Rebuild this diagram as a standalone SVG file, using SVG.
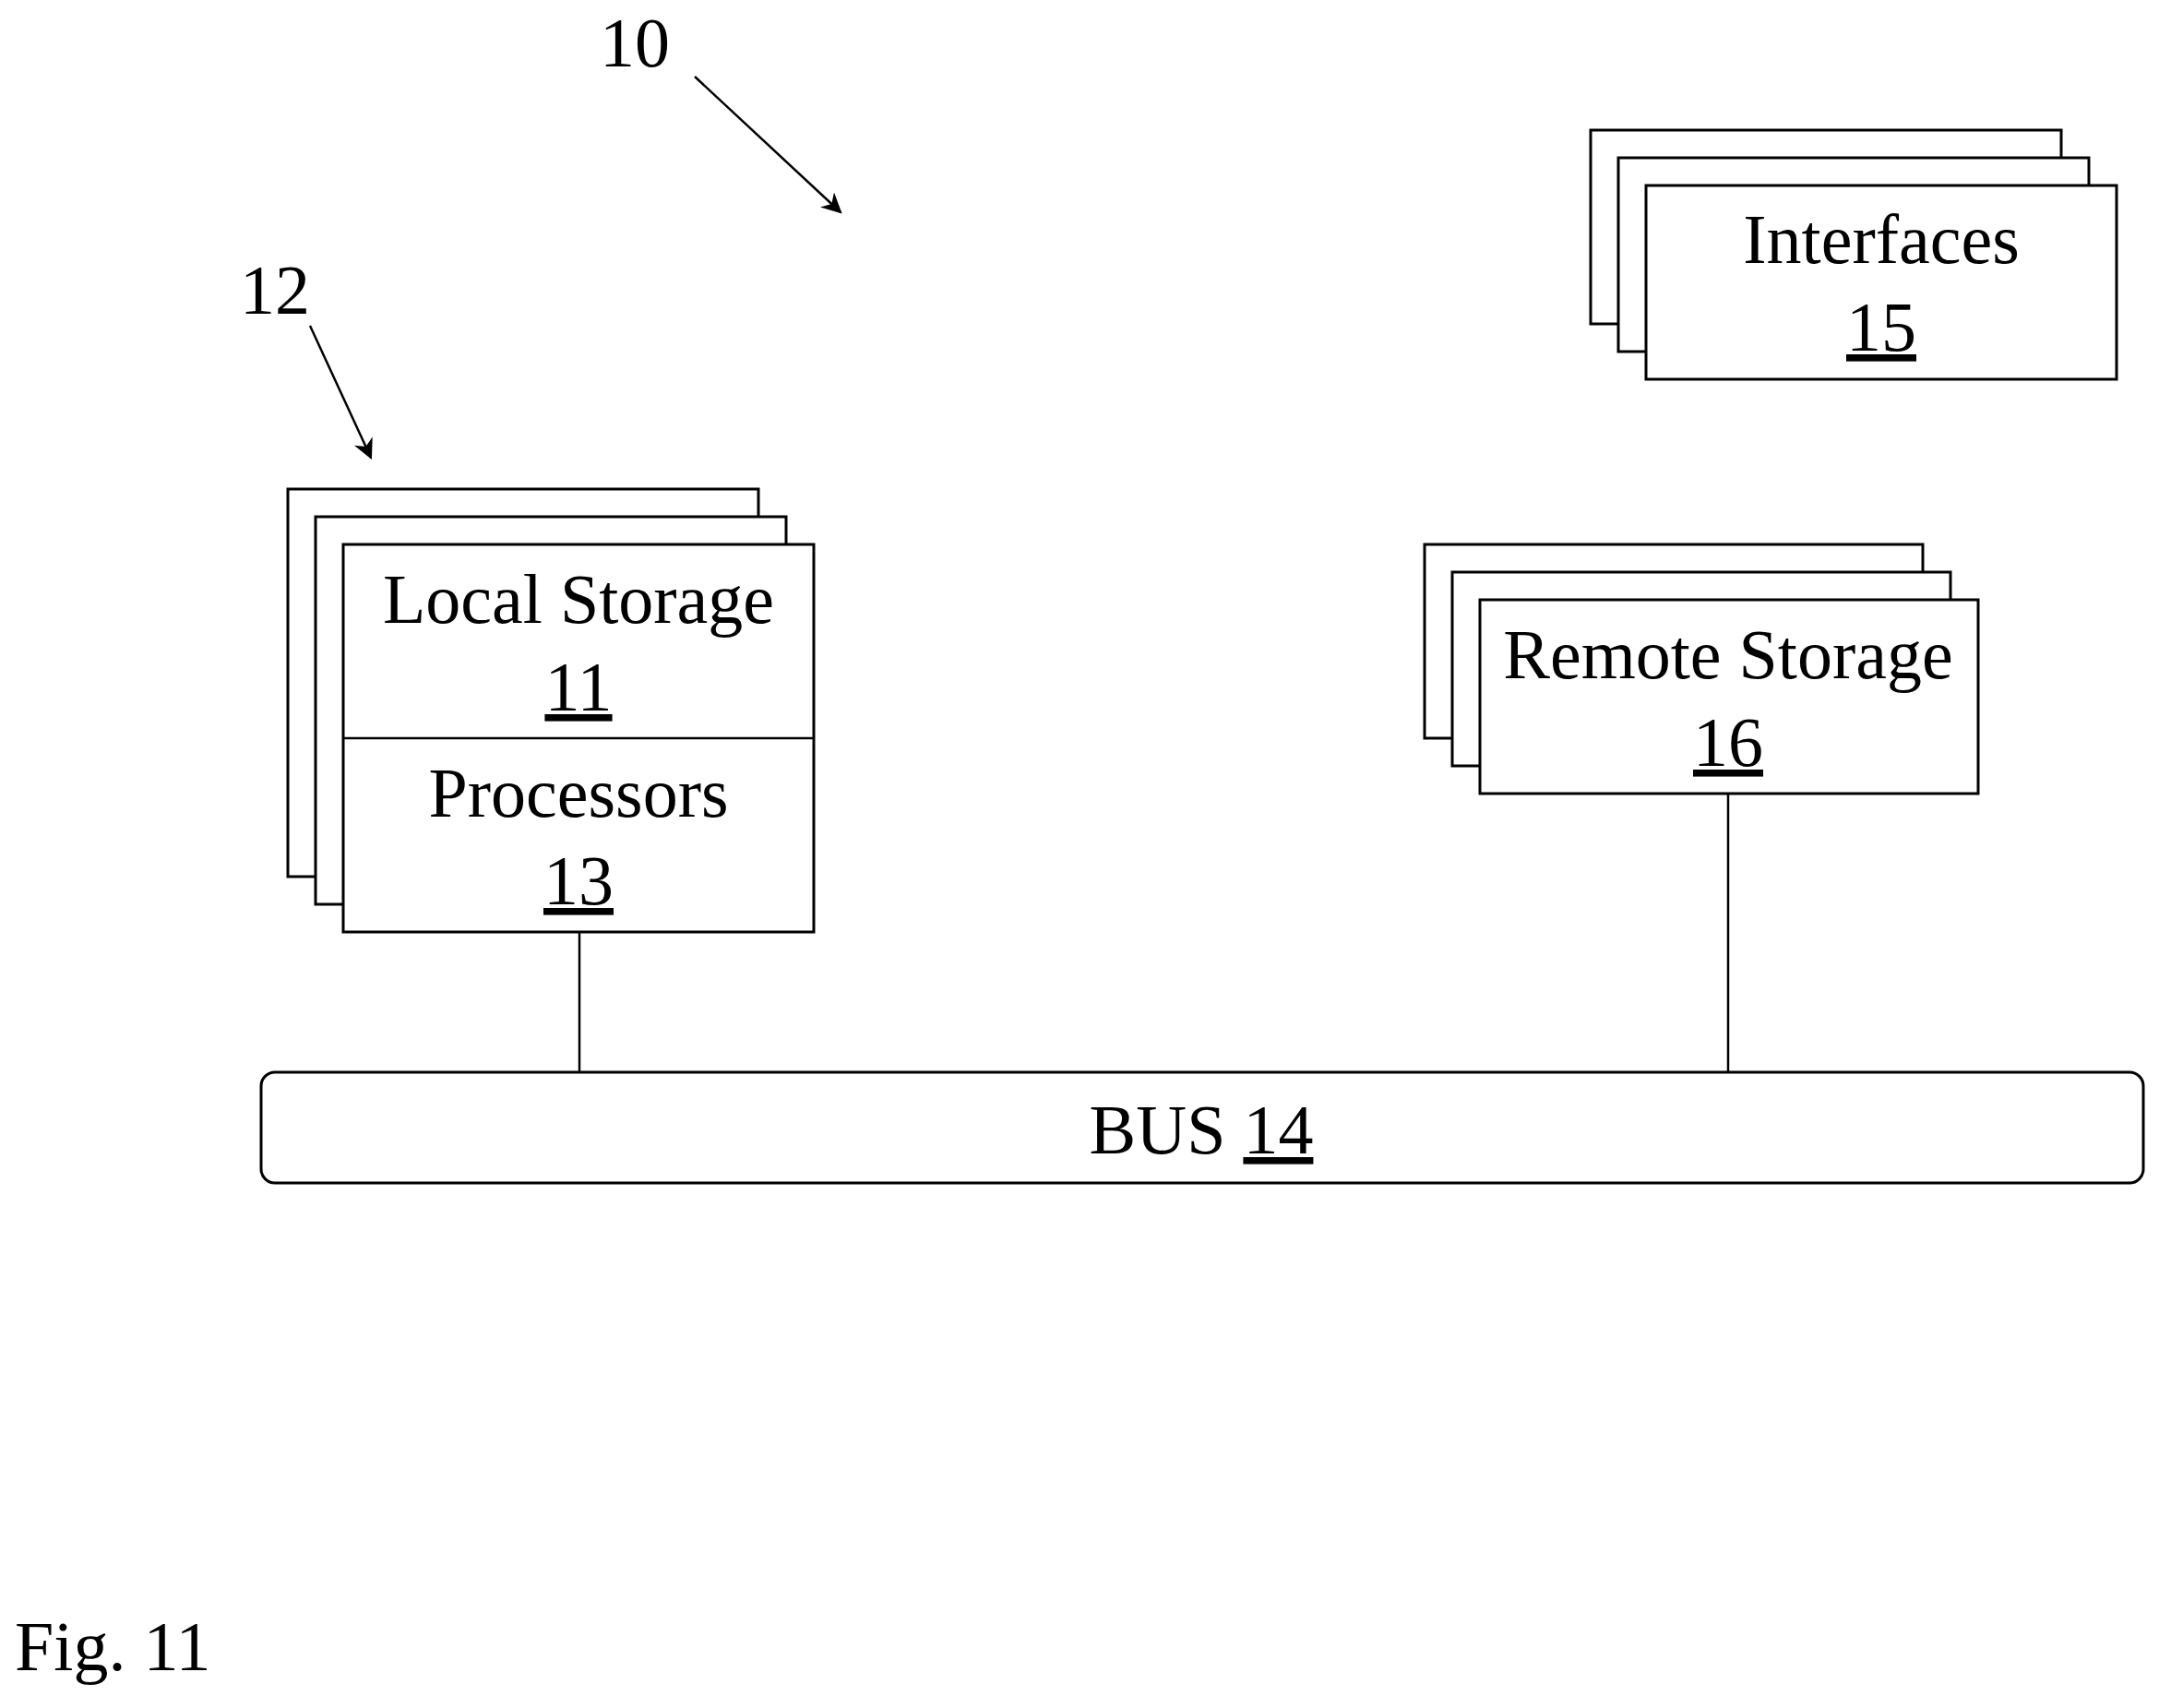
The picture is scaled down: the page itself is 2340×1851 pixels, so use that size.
<svg xmlns="http://www.w3.org/2000/svg" width="2340" height="1851" viewBox="0 0 2340 1851">
<style>
rect{fill:#fff;stroke:#000;stroke-width:3}
text{font-family:"Liberation Serif",serif;fill:#000;text-anchor:middle;font-size:76px}
.u{text-decoration:underline}
line{stroke:#000;stroke-width:2.5}
</style>
<defs><marker id="b" viewBox="0 0 10 10" refX="9" refY="5" markerWidth="22" markerHeight="22" orient="auto" markerUnits="userSpaceOnUse"><path d="M0,0 L10,5 L0,10 L3,5z" fill="#000"/></marker></defs>
<rect width="2340" height="1851" style="stroke:none"/>
<g id="labels">
<text x="688" y="72" font-size="64">10</text>
<text x="298" y="340" font-size="64">12</text>
<text x="16" y="1810" font-size="140" style="text-anchor:start">Fig. 11</text>
</g>
<g id="connectors">
<line x1="753" y1="83" x2="911" y2="230" marker-end="url(#b)"/>
<line x1="336" y1="353" x2="402" y2="496" marker-end="url(#b)"/>
<line x1="628" y1="1010" x2="628" y2="1162"/>
<line x1="1873" y1="860" x2="1873" y2="1162"/>
</g>
<g id="node-local">
<rect x="312" y="530" width="510" height="420"/>
<rect x="342" y="560" width="510" height="420"/>
<rect x="372" y="590" width="510" height="420"/>
<line x1="372" y1="800" x2="882" y2="800"/>
<text x="627" y="675">Local Storage</text>
<text x="627" y="770" class="u">11</text>
<text x="627" y="885">Processors</text>
<text x="627" y="980" class="u">13</text>
</g>
<g id="node-interfaces">
<rect x="1724" y="141" width="510" height="210"/>
<rect x="1754" y="171" width="510" height="210"/>
<rect x="1784" y="201" width="510" height="210"/>
<text x="2039" y="285">Interfaces</text>
<text x="2039" y="380" class="u">15</text>
</g>
<g id="node-remote">
<rect x="1544" y="590" width="540" height="210"/>
<rect x="1574" y="620" width="540" height="210"/>
<rect x="1604" y="650" width="540" height="210"/>
<text x="1873" y="735">Remote Storage</text>
<text x="1873" y="830" class="u">16</text>
</g>
<g id="node-bus">
<rect x="283" y="1162" width="2040" height="120" rx="15"/>
<text x="1302" y="1250">BUS <tspan class="u">14</tspan></text>
</g>
</svg>
